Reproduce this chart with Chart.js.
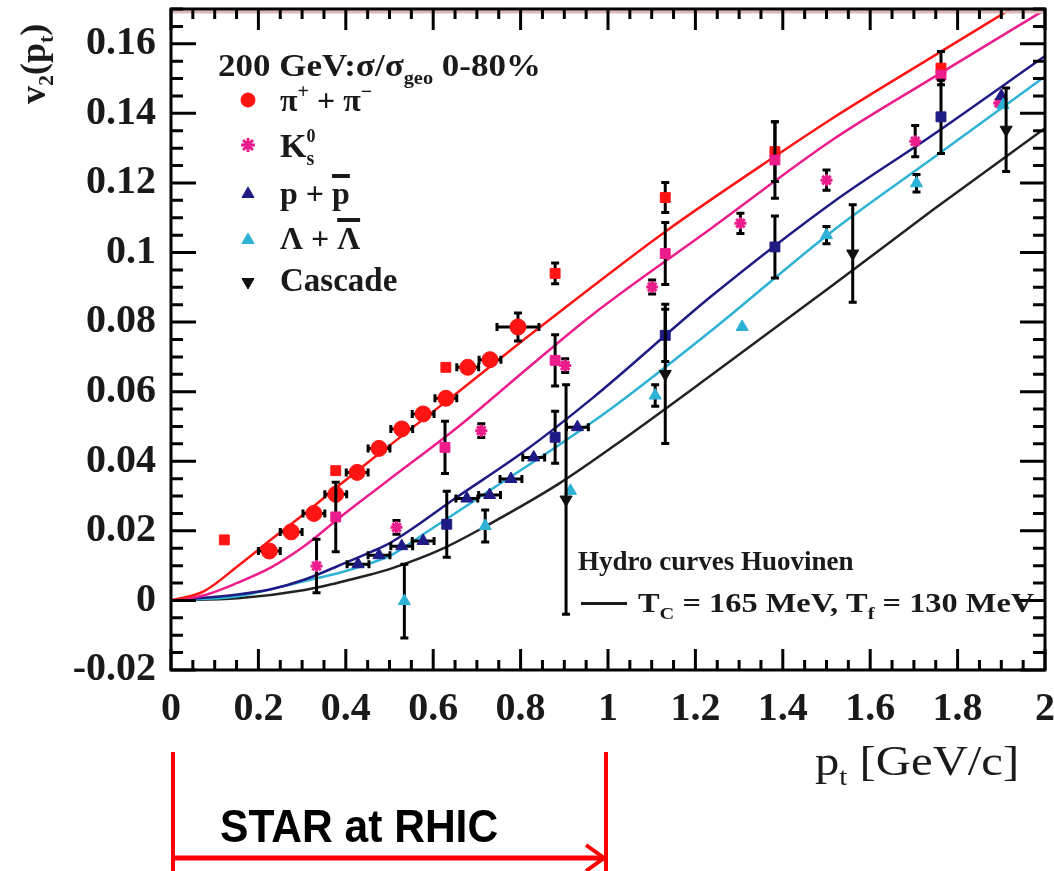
<!DOCTYPE html>
<html lang="en">
<head>
<meta charset="UTF-8">
<title>v2(pt) - STAR at RHIC</title>
<script src="https://cdn.jsdelivr.net/npm/chart.js"></script>
<style>
  html, body { margin: 0; padding: 0; background: #fff; }
  #wrap { width: 1054px; height: 871px; }
</style>
</head>
<body>
<div id="wrap"><canvas id="v2Chart" width="1054" height="871"></canvas></div>
<script>
// ---- axis ticks ----
const xTickVals = [0, 0.2, 0.4, 0.6, 0.8, 1, 1.2, 1.4, 1.6, 1.8, 2];
const yTickVals = [-0.02, 0, 0.02, 0.04, 0.06, 0.08, 0.1, 0.12, 0.14, 0.16];

// ---- measured v2, 200 GeV 0-80% ----
const pionX    = [0.225, 0.275, 0.327, 0.377, 0.426, 0.476, 0.528, 0.577, 0.629, 0.679, 0.730, 0.794];
const pionV2   = [0.0142, 0.0197, 0.0250, 0.0305, 0.0368, 0.0437, 0.0493, 0.0536, 0.0581, 0.0670, 0.0692, 0.0786];
const pionXErr = [0.025, 0.025, 0.025, 0.025, 0.025, 0.025, 0.025, 0.025, 0.025, 0.025, 0.025, 0.048];
const pionYErr = [0, 0, 0, 0, 0, 0, 0, 0, 0, 0, 0, 0.004];

const pionSqX   = [0.122, 0.377, 0.629, 0.879, 1.131, 1.382, 1.762];
const pionSqV2  = [0.0174, 0.0373, 0.0670, 0.0940, 0.1158, 0.1290, 0.1530];
const pionSqErr = [0, 0, 0, 0.003, 0.0043, 0.0086, 0.0048];

const kaonX   = [0.333, 0.516, 0.710, 0.902, 1.101, 1.303, 1.500, 1.703, 1.895];
const kaonV2  = [0.0099, 0.0210, 0.0488, 0.0675, 0.0901, 0.1084, 0.1208, 0.1320, 0.1430];
const kaonErr = [0.0077, 0.002, 0.002, 0.002, 0.002, 0.0029, 0.0029, 0.0045, 0];

const kaonSqX   = [0.377, 0.627, 0.879, 1.131, 1.382, 1.762];
const kaonSqV2  = [0.0240, 0.0440, 0.0690, 0.0997, 0.1266, 0.1510];
const kaonSqErr = [0.0100, 0.0075, 0.0074, 0.0089, 0.0110, 0];

const protonX    = [0.428, 0.476, 0.528, 0.577, 0.677, 0.729, 0.778, 0.830, 0.930, 1.900];
const protonV2   = [0.0104, 0.0130, 0.0156, 0.0171, 0.0293, 0.0303, 0.0349, 0.0411, 0.0498, 0.1450];
const protonXErr = [0.025, 0.025, 0.025, 0.025, 0.025, 0.025, 0.025, 0.025, 0.025, 0];

const protonSqX   = [0.631, 0.879, 1.131, 1.382, 1.762];
const protonSqV2  = [0.0219, 0.0469, 0.0762, 0.1016, 0.1390];
const protonSqErr = [0.0095, 0.0075, 0.0075, 0.0089, 0.0105];

const lambdaX   = [0.534, 0.719, 0.914, 1.108, 1.307, 1.500, 1.706, 1.904];
const lambdaV2  = [-0.0002, 0.0214, 0.0315, 0.0589, 0.0786, 0.1050, 0.1199, 0.1424];
const lambdaErr = [0.0106, 0.0046, 0, 0.0031, 0, 0.0025, 0.0025, 0];

const cascadeX   = [0.904, 1.131, 1.560, 1.911];
const cascadeV2  = [0.0290, 0.0651, 0.0997, 0.1353];
const cascadeErr = [0.033, 0.020, 0.014, 0.012];

// ---- hydro curves (Huovinen) ----
const hydroPiX = [0, 0.076, 0.153, 0.229, 0.306, 0.382, 0.459, 0.505, 0.658, 0.81, 0.963, 1.131, 1.384, 1.514, 1.743, 1.919];
const hydroPiY = [0, 0.0027, 0.0099, 0.0175, 0.0250, 0.0328, 0.0405, 0.0450, 0.0600, 0.0752, 0.0901, 0.1060, 0.1278, 0.1386, 0.1563, 0.1698];
const hydroKX  = [0, 0.076, 0.153, 0.229, 0.306, 0.382, 0.459, 0.505, 0.658, 0.81, 0.963, 1.239, 1.514, 1.743, 2.0];
const hydroKY  = [0, 0.0015, 0.0051, 0.0095, 0.0157, 0.0234, 0.0309, 0.0353, 0.0500, 0.0661, 0.0820, 0.1072, 0.1324, 0.1502, 0.1698];
const hydroPX  = [0, 0.153, 0.229, 0.306, 0.382, 0.459, 0.505, 0.658, 0.81, 0.963, 1.239, 1.514, 1.743, 2.0];
const hydroPY  = [0, 0.0017, 0.0032, 0.006, 0.0099, 0.0140, 0.0168, 0.030, 0.043, 0.058, 0.0877, 0.1144, 0.1338, 0.1565];
const hydroLX  = [0, 0.153, 0.306, 0.382, 0.459, 0.505, 0.581, 0.734, 0.887, 1.009, 1.239, 1.514, 1.743, 2.0];
const hydroLY  = [0, 0.0012, 0.0056, 0.0078, 0.0108, 0.0131, 0.0193, 0.0320, 0.0446, 0.0553, 0.0778, 0.1062, 0.1271, 0.1506];
const hydroXiX = [0, 0.153, 0.306, 0.382, 0.459, 0.505, 0.627, 0.734, 0.887, 1.009, 1.239, 1.514, 1.743, 2.0];
const hydroXiY = [0, 0.0006, 0.003, 0.0051, 0.0075, 0.0092, 0.0152, 0.0223, 0.0335, 0.0440, 0.0650, 0.0906, 0.1122, 0.1357];

const RED = '#ff1414', PINK = '#ec1c8c', NAVY = '#1f1b84', CYAN = '#2db2d6', BLACK = '#111111';
const SERIF = '"Liberation Serif", "Times New Roman", serif';

const pts = (xs, ys) => xs.map((x, i) => ({ x: x, y: ys[i] }));

function curve(xs, ys, color) {
  return {
    data: pts(xs, ys), showLine: true, borderColor: color, borderWidth: 2.5,
    pointRadius: 0, cubicInterpolationMode: 'monotone', order: 10
  };
}
function markers(xs, ys, color, style, extra) {
  return Object.assign({
    data: pts(xs, ys), showLine: false, pointStyle: style, pointRadius: 7,
    backgroundColor: color, borderColor: color, borderWidth: 1, order: 0
  }, extra || {});
}

// error bars drawn just before each marker set
const errorBars = {
  id: 'errorBars',
  beforeDatasetDraw(chart, args) {
    const ds = chart.data.datasets[args.index];
    if (!ds.yErr && !ds.xErr) return;
    const { ctx } = chart, xs = chart.scales.x, ys = chart.scales.y;
    ctx.save();
    ctx.strokeStyle = '#000';
    ctx.lineWidth = 3;
    ctx.beginPath();
    ds.data.forEach((p, i) => {
      const px = xs.getPixelForValue(p.x), py = ys.getPixelForValue(p.y);
      const ye = ds.yErr ? ds.yErr[i] : 0, xe = ds.xErr ? ds.xErr[i] : 0;
      if (ye > 0) {
        const t = ys.getPixelForValue(p.y + ye), b = ys.getPixelForValue(p.y - ye);
        ctx.moveTo(px, t); ctx.lineTo(px, b);
        ctx.moveTo(px - 4, t); ctx.lineTo(px + 4, t);
        ctx.moveTo(px - 4, b); ctx.lineTo(px + 4, b);
      }
      if (xe > 0) {
        const l = xs.getPixelForValue(p.x - xe), r = xs.getPixelForValue(p.x + xe);
        ctx.moveTo(l, py); ctx.lineTo(r, py);
        ctx.moveTo(l, py - 4); ctx.lineTo(l, py + 4);
        ctx.moveTo(r, py - 4); ctx.lineTo(r, py + 4);
      }
    });
    ctx.stroke();
    ctx.restore();
  }
};

// rich text: parts of {t, size, dy, bold, keep, bar}
function richText(ctx, x, y, parts, sx) {
  ctx.save();
  ctx.translate(x, y);
  ctx.scale(sx || 1, 1);
  let cx = 0;
  parts.forEach(p => {
    ctx.font = (p.bold === false ? '' : 'bold ') + p.size + 'px ' + (p.family || SERIF);
    ctx.fillText(p.t, cx, p.dy || 0);
    const w = ctx.measureText(p.t).width;
    if (p.bar !== undefined) ctx.fillRect(cx, p.bar, w, 4);
    if (!p.keep) cx += w;
  });
  ctx.restore();
}

function mark(ctx, style, color, x, y, rot, bw, r) {
  ctx.fillStyle = color;
  ctx.strokeStyle = color;
  ctx.lineWidth = bw || 1;
  Chart.helpers.drawPoint(ctx, { pointStyle: style, radius: r || 7, rotation: rot || 0, borderWidth: bw || 1 }, x, y);
}

const frame = {
  id: 'frame',
  afterDraw(chart) {
    const { ctx, chartArea: a } = chart;
    const xs = chart.scales.x, ys = chart.scales.y;
    ctx.save();
    // faint pink band under the top edge
    ctx.strokeStyle = '#dcb8b8';
    ctx.lineWidth = 3;
    ctx.beginPath(); ctx.moveTo(a.left, a.top + 3); ctx.lineTo(a.right, a.top + 3); ctx.stroke();

    ctx.strokeStyle = '#000';
    ctx.lineWidth = 3;
    ctx.strokeRect(a.left, a.top, a.right - a.left, a.bottom - a.top);
    ctx.beginPath();
    for (let k = 0; k <= 38; k++) {
      const py = ys.getPixelForValue(-0.02 + k * 0.005);
      const len = k % 4 === 0 ? 25 : 12;
      ctx.moveTo(a.left, py); ctx.lineTo(a.left + len, py);
      ctx.moveTo(a.right, py); ctx.lineTo(a.right - len, py);
    }
    for (let k = 0; k <= 40; k++) {
      const px = xs.getPixelForValue(k * 0.05);
      const len = k % 4 === 0 ? 21 : 10;
      ctx.moveTo(px, a.bottom); ctx.lineTo(px, a.bottom - len);
      ctx.moveTo(px, a.top); ctx.lineTo(px, a.top + len);
    }
    ctx.stroke();

    // legend
    ctx.fillStyle = '#1a1a1a';
    ctx.textBaseline = 'alphabetic';
    richText(ctx, 218, 76, [
      { t: '200 GeV:\u03c3/\u03c3', size: 31 }, { t: 'geo', size: 18, dy: 8 }, { t: ' 0-80%', size: 31 }
    ], 1.13);
    mark(ctx, 'circle', RED, 248, 100);
    mark(ctx, 'star', PINK, 248, 145, 0, 3);
    mark(ctx, 'triangle', NAVY, 248, 194);
    mark(ctx, 'triangle', CYAN, 248, 240);
    mark(ctx, 'triangle', BLACK, 248, 282, 180);
    ctx.fillStyle = '#1a1a1a';
    richText(ctx, 280, 111, [
      { t: '\u03c0', size: 32 }, { t: '+', size: 20, dy: -13 }, { t: ' + \u03c0', size: 32 }, { t: '\u2212', size: 20, dy: -13 }
    ]);
    richText(ctx, 280, 157, [
      { t: 'K', size: 34 }, { t: '0', size: 18, dy: -15, keep: true }, { t: 's', size: 20, dy: 8 }
    ]);
    richText(ctx, 280, 204, [
      { t: 'p + ', size: 32 }, { t: 'p', size: 32, bar: -30 }
    ]);
    richText(ctx, 280, 249, [
      { t: '\u039b + ', size: 32 }, { t: '\u039b', size: 32, bar: -31 }
    ]);
    richText(ctx, 280, 291, [{ t: 'Cascade', size: 33 }]);

    // hydro caption
    richText(ctx, 578, 570, [{ t: 'Hydro curves Huovinen', size: 27 }]);
    ctx.fillRect(581, 602, 46, 3);
    richText(ctx, 638, 612, [
      { t: 'T', size: 27 }, { t: 'C', size: 17, dy: 7 }, { t: ' = 165 MeV, T', size: 27 },
      { t: 'f', size: 17, dy: 7 }, { t: ' = 130 MeV', size: 27 }
    ], 1.2);

    // axis titles
    ctx.save();
    ctx.translate(45, 104);
    ctx.rotate(-Math.PI / 2);
    richText(ctx, 0, 0, [
      { t: 'v', size: 36 }, { t: '2', size: 22, dy: 8 }, { t: '(p', size: 36 }, { t: 't', size: 22, dy: 8 }, { t: ')', size: 36 }
    ]);
    ctx.restore();
    richText(ctx, 815, 775, [
      { t: 'p', size: 42, bold: false }, { t: 't', size: 25, dy: 10, bold: false }, { t: ' [GeV/c]', size: 42, bold: false }
    ], 1.16);

    // STAR at RHIC range, x = 0 .. 1
    const x0 = xs.getPixelForValue(0) + 2, x1 = xs.getPixelForValue(1) - 2;
    ctx.strokeStyle = '#ff0000';
    ctx.lineWidth = 4;
    ctx.beginPath();
    ctx.moveTo(x0, 752); ctx.lineTo(x0, 871);
    ctx.moveTo(x1, 752); ctx.lineTo(x1, 871);
    ctx.stroke();
    ctx.lineWidth = 5;
    ctx.beginPath();
    ctx.moveTo(x0, 858); ctx.lineTo(x1 - 2, 858);
    ctx.stroke();
    ctx.lineWidth = 4;
    ctx.beginPath();
    ctx.moveTo(x1 - 20, 845); ctx.lineTo(x1 - 2, 858); ctx.lineTo(x1 - 20, 871);
    ctx.stroke();
    ctx.fillStyle = '#000';
    richText(ctx, 220, 842, [{ t: 'STAR at RHIC', size: 46, family: '"Liberation Sans", Arial, sans-serif' }], 0.925);
    ctx.restore();
  }
};

const fmt = v => String(Math.round(v * 100) / 100);
const tickFont = { family: SERIF, weight: 'bold', size: 40 };

new Chart(document.getElementById('v2Chart'), {
  type: 'scatter',
  data: {
    datasets: [
      markers(cascadeX, cascadeV2, BLACK, 'triangle', { rotation: 180, yErr: cascadeErr }),
      markers(lambdaX, lambdaV2, CYAN, 'triangle', { yErr: lambdaErr }),
      markers(protonX, protonV2, NAVY, 'triangle', { xErr: protonXErr }),
      markers(protonSqX, protonSqV2, NAVY, 'rect', { yErr: protonSqErr }),
      markers(kaonX, kaonV2, PINK, 'star', { pointRadius: 6, borderWidth: 3, yErr: kaonErr }),
      markers(kaonSqX, kaonSqV2, PINK, 'rect', { yErr: kaonSqErr }),
      markers(pionSqX, pionSqV2, RED, 'rect', { yErr: pionSqErr }),
      markers(pionX, pionV2, RED, 'circle', { pointRadius: 8, xErr: pionXErr, yErr: pionYErr }),
      curve(hydroPiX, hydroPiY, RED),
      curve(hydroKX, hydroKY, PINK),
      curve(hydroPX, hydroPY, NAVY),
      curve(hydroLX, hydroLY, CYAN),
      curve(hydroXiX, hydroXiY, '#222222')
    ]
  },
  options: {
    responsive: false,
    animation: false,
    layout: { padding: { top: 9, right: 8, left: 0, bottom: 0 } },
    plugins: { legend: { display: false }, tooltip: { enabled: false } },
    scales: {
      x: {
        type: 'linear', min: 0, max: 2,
        grid: { display: false, drawTicks: false },
        border: { display: false },
        afterBuildTicks: s => { s.ticks = xTickVals.map(v => ({ value: v })); },
        afterFit: s => { s.height = 201; s.paddingLeft = 0; s.paddingRight = 0; },
        ticks: { font: tickFont, color: '#1a1a1a', padding: 16, maxRotation: 0, autoSkip: false, callback: fmt }
      },
      y: {
        type: 'linear', min: -0.02, max: 0.17,
        grid: { display: false, drawTicks: false },
        border: { display: false },
        afterBuildTicks: s => { s.ticks = yTickVals.map(v => ({ value: v })); },
        afterFit: s => { s.width = 171; s.paddingTop = 0; s.paddingBottom = 0; },
        ticks: { font: tickFont, color: '#1a1a1a', padding: 15, autoSkip: false, callback: fmt }
      }
    }
  },
  plugins: [errorBars, frame]
});
</script>
</body>
</html>
